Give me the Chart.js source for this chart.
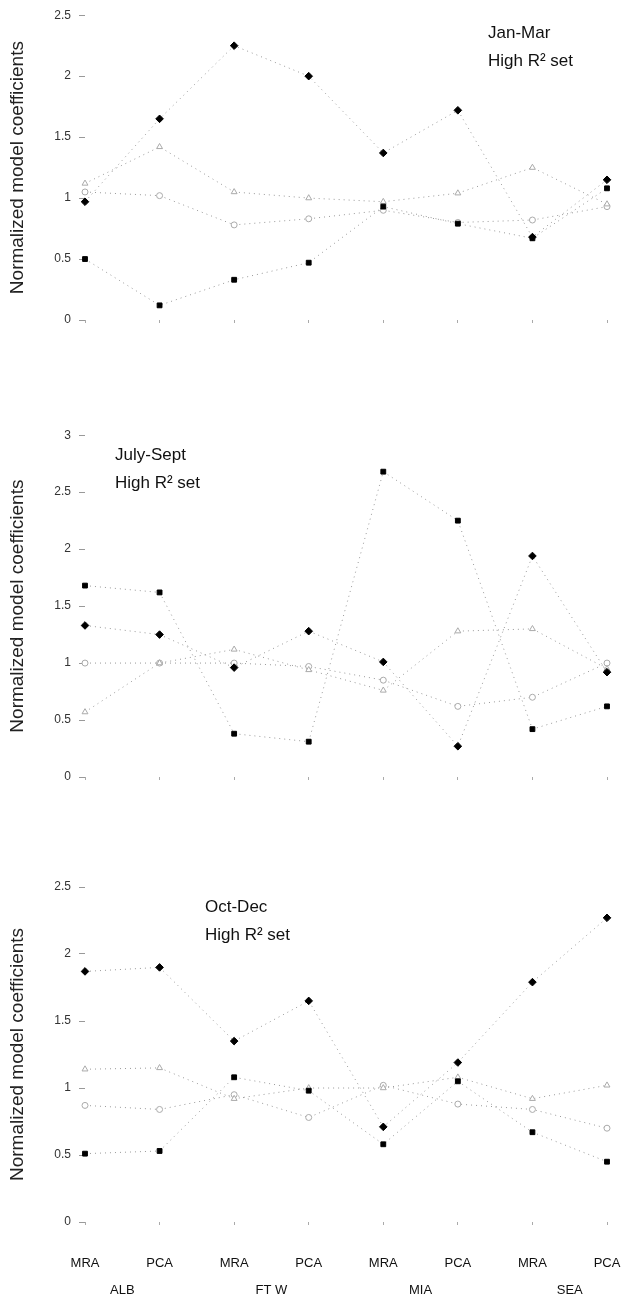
<!DOCTYPE html>
<html>
<head>
<meta charset="utf-8">
<script src="https://cdn.jsdelivr.net/npm/chart.js@4"></script>
<style>
   html, body { margin: 0; padding: 0; background: #fff; }
   #wrap { position: relative; width: 622px; height: 1294px; }
   .pan { position: absolute; left: 0; width: 622px; }
</style>
</head>
<body>
<div id="wrap">
   <div class="pan" style="top:0;height:340px"><canvas id="c1"></canvas></div>
   <div class="pan" style="top:420px;height:380px"><canvas id="c2"></canvas></div>
   <div class="pan" style="top:860px;height:434px"><canvas id="c3"></canvas></div>
</div>
<script>
// kategorier (modell per station)
const categories = ['MRA', 'PCA', 'MRA', 'PCA', 'MRA', 'PCA', 'MRA', 'PCA'];
const groups = ['ALB', 'FT W', 'MIA', 'SEA'];

// Jan-Mar
const jmDiamond  = [0.97, 1.65, 2.25, 2.0, 1.37, 1.72, 0.68, 1.15];
const jmSquare   = [0.5, 0.12, 0.33, 0.47, 0.93, 0.79, 0.67, 1.08];
const jmTriangle = [1.12, 1.42, 1.05, 1.0, 0.97, 1.04, 1.25, 0.95];
const jmCircle   = [1.05, 1.02, 0.78, 0.83, 0.9, 0.8, 0.82, 0.93];

// July-Sept
const jsDiamond  = [1.33, 1.25, 0.96, 1.28, 1.01, 0.27, 1.94, 0.92];
const jsSquare   = [1.68, 1.62, 0.38, 0.31, 2.68, 2.25, 0.42, 0.62];
const jsTriangle = [0.57, 1.0, 1.12, 0.94, 0.76, 1.28, 1.3, 0.95];
const jsCircle   = [1.0, 1.0, 1.0, 0.97, 0.85, 0.62, 0.7, 1.0];

// Oct-Dec
const odDiamond  = [1.87, 1.9, 1.35, 1.65, 0.71, 1.19, 1.79, 2.27];
const odSquare   = [0.51, 0.53, 1.08, 0.98, 0.58, 1.05, 0.67, 0.45];
const odTriangle = [1.14, 1.15, 0.92, 1.0, 1.0, 1.08, 0.92, 1.02];
const odCircle   = [0.87, 0.84, 0.95, 0.78, 1.02, 0.88, 0.84, 0.7];

Chart.defaults.font.family = '"Liberation Sans", Arial, sans-serif';
Chart.defaults.color = '#222';

// bygger de fyra serierna; index 0 ritas överst
function serier(diamond, square, triangle, circle) {
   const linje = { borderColor: '#999', borderWidth: 1, borderDash: [1, 4], fill: false, tension: 0 };
   return [
      { ...linje, data: diamond, pointStyle: 'rectRot', pointRadius: 3.8, pointBackgroundColor: '#000', pointBorderColor: '#000' },
      { ...linje, data: square, pointStyle: 'rect', pointRadius: 3.4, pointBackgroundColor: '#000', pointBorderColor: '#000' },
      { ...linje, data: triangle, pointStyle: 'triangle', pointRadius: 3.4, pointBackgroundColor: '#fff', pointBorderColor: '#aaa', pointBorderWidth: 1 },
      { ...linje, data: circle, pointStyle: 'circle', pointRadius: 3, pointBackgroundColor: '#fff', pointBorderColor: '#aaa', pointBorderWidth: 1 }
   ];
}

// text i diagrammet (period + "High R² set") och gruppetiketter under x-axeln
const textPlugin = {
   id: 'panelText',
   afterDraw(chart) {
      const o = chart.options.plugins.panelText;
      const ctx = chart.ctx;
      ctx.save();
      ctx.fillStyle = '#111';
      ctx.font = '17px "Liberation Sans", Arial, sans-serif';
      ctx.textBaseline = 'middle';
      ctx.textAlign = 'left';
      o.lines.forEach((t, i) => ctx.fillText(t, o.x, o.y + i * 28));
      if (o.groups) {
         const xs = chart.scales.x;
         ctx.font = '13px "Liberation Sans", Arial, sans-serif';
         ctx.textAlign = 'center';
         groups.forEach((g, i) => {
            const mid = (xs.getPixelForValue(2 * i) + xs.getPixelForValue(2 * i + 1)) / 2;
            ctx.fillText(g, mid, chart.chartArea.bottom + 68);
         });
      }
      ctx.restore();
   }
};

function ritaPanel(id, data, ymax, padTop, xHeight, visaEtiketter, text) {
   new Chart(document.getElementById(id), {
      type: 'line',
      data: { labels: categories, datasets: data },
      plugins: [textPlugin],
      options: {
         responsive: true,
         maintainAspectRatio: false,
         animation: false,
         clip: false,
         layout: { padding: { top: padTop, right: 15, left: 0, bottom: 0 } },
         plugins: {
            legend: { display: false },
            tooltip: { enabled: false },
            panelText: { ...text, groups: visaEtiketter }
         },
         scales: {
            x: {
               offset: false,
               border: { display: false },
               grid: { drawOnChartArea: false, tickLength: 3, color: '#aaa' },
               ticks: { display: visaEtiketter, padding: 31, font: { size: 13 }, color: '#111', maxRotation: 0 },
               afterFit: s => { s.height = xHeight; s.paddingLeft = 0; s.paddingRight = 0; }
            },
            y: {
               min: 0,
               max: ymax,
               border: { display: false },
               grid: { drawOnChartArea: false, tickLength: 6, color: '#999' },
               ticks: { stepSize: 0.5, padding: 8, font: { size: 12 }, color: '#333', callback: v => String(v) },
               title: {
                  display: true,
                  text: 'Normalized model coefficients',
                  font: { size: 19 },
                  color: '#222',
                  padding: { top: 6, bottom: 0 }
               },
               afterFit: s => { s.width = 85; }
            }
         }
      }
   });
}

ritaPanel('c1', serier(jmDiamond, jmSquare, jmTriangle, jmCircle), 2.5, 15, 20, false,
   { lines: ['Jan-Mar', 'High R\u00b2 set'], x: 488, y: 33 });
ritaPanel('c2', serier(jsDiamond, jsSquare, jsTriangle, jsCircle), 3, 15, 23, false,
   { lines: ['July-Sept', 'High R\u00b2 set'], x: 115, y: 35 });
ritaPanel('c3', serier(odDiamond, odSquare, odTriangle, odCircle), 2.5, 27, 72, true,
   { lines: ['Oct-Dec', 'High R\u00b2 set'], x: 205, y: 47 });
</script>
</body>
</html>
